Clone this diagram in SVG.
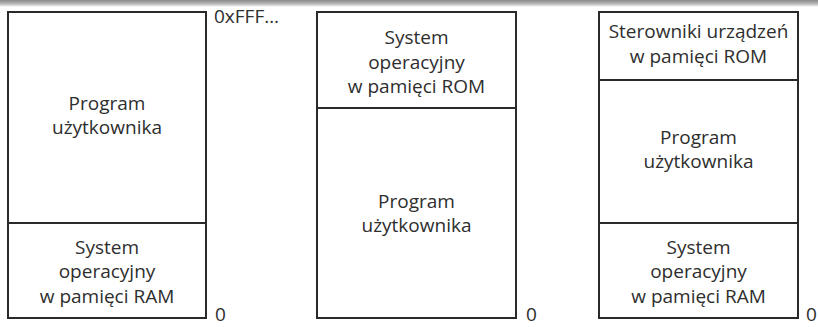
<svg xmlns="http://www.w3.org/2000/svg" width="818" height="327" viewBox="0 0 818 327">
<defs>
<linearGradient id="bar" x1="0" y1="0" x2="0" y2="1">
<stop offset="0" stop-color="#8a8a8a"/>
<stop offset="0.55" stop-color="#b8b8b8"/>
<stop offset="1" stop-color="#ffffff"/>
</linearGradient>
</defs>
<style>
.box{fill:#fff;stroke:#2a2a2a;stroke-width:2}
.div{stroke:#2a2a2a;stroke-width:2}
text{font-family:"Open Sans","Noto Sans",sans-serif;font-size:19px;fill:#2e2e2e}
.c{text-anchor:middle}
</style>
<rect x="0" y="0" width="818" height="7" fill="url(#bar)"/>
<g id="layout1">
<rect class="box" x="8" y="12" width="198" height="306"/>
<line class="div" x1="8" y1="223" x2="206" y2="223"/>
<g id="l1-program">
<text class="c" x="107" y="110">Program</text>
<text class="c" x="107" y="134">użytkownika</text>
</g>
<g id="l1-os">
<text class="c" x="107" y="254">System</text>
<text class="c" x="107" y="278">operacyjny</text>
<text class="c" x="107" y="303">w pamięci RAM</text>
</g>
<text x="214" y="23">0xFFF…</text>
<text x="215" y="321">0</text>
</g>
<g id="layout2">
<rect class="box" x="317" y="12" width="199" height="306"/>
<line class="div" x1="317" y1="108" x2="516" y2="108"/>
<g id="l2-os">
<text class="c" x="416.5" y="44">System</text>
<text class="c" x="416.5" y="69">operacyjny</text>
<text class="c" x="416.5" y="93">w pamięci ROM</text>
</g>
<g id="l2-program">
<text class="c" x="416.5" y="208">Program</text>
<text class="c" x="416.5" y="232">użytkownika</text>
</g>
<text x="526" y="321">0</text>
</g>
<g id="layout3">
<rect class="box" x="599" y="12" width="199" height="306"/>
<line class="div" x1="599" y1="80" x2="798" y2="80"/>
<line class="div" x1="599" y1="223" x2="798" y2="223"/>
<g id="l3-drivers">
<text class="c" x="698.5" y="38">Sterowniki urządzeń</text>
<text class="c" x="698.5" y="63">w pamięci ROM</text>
</g>
<g id="l3-program">
<text class="c" x="698.5" y="144">Program</text>
<text class="c" x="698.5" y="168">użytkownika</text>
</g>
<g id="l3-os">
<text class="c" x="698.5" y="254">System</text>
<text class="c" x="698.5" y="278">operacyjny</text>
<text class="c" x="698.5" y="303">w pamięci RAM</text>
</g>
<text x="806" y="321">0</text>
</g>
</svg>
